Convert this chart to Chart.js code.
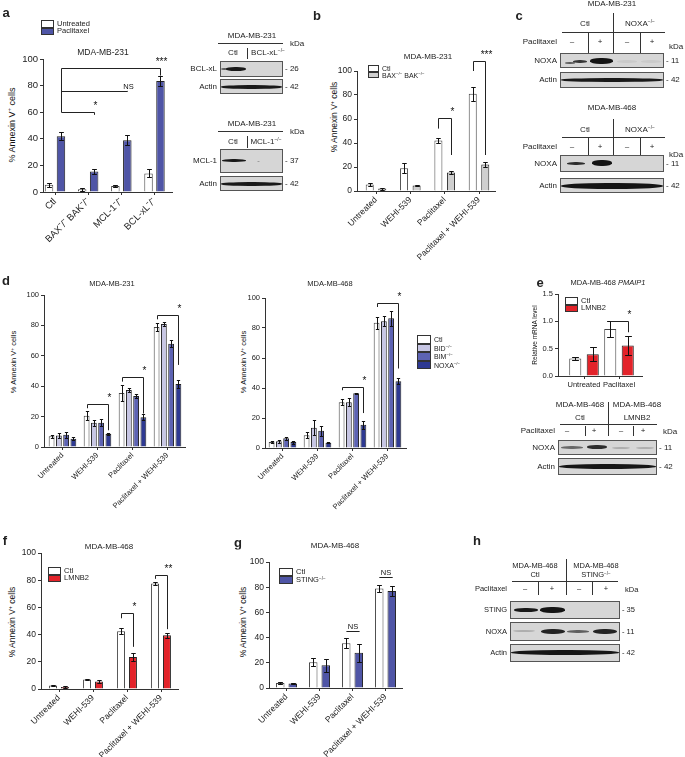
<!DOCTYPE html>
<html>
<head>
<meta charset="utf-8">
<script src="https://cdn.jsdelivr.net/npm/chart.js@4/dist/chart.umd.min.js"></script>
<style>
  body { margin: 0; width: 685px; height: 757px; position: relative; overflow: hidden; background: #fff;
         font-family: "Liberation Sans", Arial, sans-serif; color: #222; }
  .t { position: absolute; white-space: nowrap; line-height: 1; will-change: transform; }
  .v { will-change: auto; color: #111; }
  .s { font-size: .62em; vertical-align: .55em; }
  canvas { position: absolute; }
</style>
</head>
<body>
<script>
// ---- data ----
// a
const catsA = ['Ctl', 'BAX⁻/⁻ BAK⁻/⁻', 'MCL-1⁻/⁻', 'BCL-xL⁻/⁻'];
const namesA = ['Untreated', 'Paclitaxel'];
const untreatedA = [5.5, 2, 4.5, 14];
const untreatedErrA = [1.5, 1, 0.5, 3];
const paclitaxelA = [42, 15.5, 39, 83.5];
const paclitaxelErrA = [3, 2, 4, 3.5];
// b
const catsTreat = ['Untreated', 'WEHI-539', 'Paclitaxel', 'Paclitaxel + WEHI-539'];
const ctlB = [5.5, 19, 42, 81];
const ctlErrB = [1, 4, 2, 6];
const baxbakB = [2, 4.5, 15.5, 22];
const baxbakErrB = [0.8, 0.7, 1, 2];
// d
const ctlD231 = [7, 20.5, 35.5, 79];
const ctlErrD231 = [1, 3, 5, 2.5];
const bidD231 = [7.5, 16, 37.5, 81];
const bidErrD231 = [1.5, 2, 1, 1.5];
const bimD231 = [8, 16, 33.5, 68];
const bimErrD231 = [2, 2.5, 1.5, 2.5];
const noxaD231 = [5.5, 8.5, 19.5, 41.5];
const noxaErrD231 = [1, 0.5, 2, 2.5];
const ctlD468 = [4, 8.5, 30.5, 83.5];
const ctlErrD468 = [0.5, 2, 2, 4];
const bidD468 = [4.5, 13.5, 30.5, 84.5];
const bidErrD468 = [1, 5, 2.5, 3.5];
const bimD468 = [6.5, 11.5, 36.5, 86.5];
const bimErrD468 = [1, 3.5, 0.5, 5];
const noxaD468 = [4, 3.5, 15.5, 44.5];
const noxaErrD468 = [1, 0.3, 2.5, 2];
// e
const catsE = ['Untreated', 'Paclitaxel'];
const ctlE = [0.32, 0.86];
const ctlErrE = [0.03, 0.14];
const lmnb2E = [0.4, 0.56];
const lmnb2ErrE = [0.13, 0.17];
// f
const ctlF = [2.5, 7, 42.5, 77.5];
const ctlErrF = [0.5, 0.5, 2, 1];
const lmnb2F = [1.5, 5.5, 23.5, 39.5];
const lmnb2ErrF = [0.5, 1, 3, 2];
// g
const ctlG = [4, 20.5, 35.5, 79];
const ctlErrG = [0.5, 3, 4, 3];
const stingG = [3.5, 18, 28, 77];
const stingErrG = [0.5, 5, 7, 4];

const WHITE = '#ffffff', BLUE = '#4f55a6', GRAY = '#cfcfcf', RED = '#e3232a';
const BID = '#c7c6e4', BIM = '#5d63b3', NOXA = '#2e3992';
const FONT = '"Liberation Sans", Arial, sans-serif';
Chart.defaults.font.family = FONT;
Chart.defaults.color = '#222';

// ---- html helpers ----
function txt(x, y, html, size, align, extra, cls) {
  const d = document.createElement('div');
  d.className = 't' + (cls ? ' ' + cls : '');
  d.innerHTML = html;
  const tx = align === 'r' ? '-100%' : align === 'l' ? '0' : '-50%';
  d.style.cssText = `left:${x}px;top:${y}px;font-size:${size}px;transform:translate(${tx},-50%);${extra || ''}`;
  document.body.appendChild(d);
}
function vtxt(x, y, html, size) {
  txt(x, y, html, size, 'c', 'transform:translate(-50%,-50%) rotate(-90deg);', 'v');
}
function letter(x, y, s) { txt(x, y, s, 13, 'c', 'font-weight:bold;'); }
function line(x1, y1, x2, y2) {
  const d = document.createElement('div');
  d.style.cssText = `position:absolute;background:#333;left:${Math.min(x1, x2)}px;top:${Math.min(y1, y2)}px;` +
    `width:${Math.max(1, Math.abs(x2 - x1))}px;height:${Math.max(1, Math.abs(y2 - y1))}px`;
  document.body.appendChild(d);
}
function rect(x, y, w, h, fill, border) {
  const d = document.createElement('div');
  d.style.cssText = `position:absolute;left:${x}px;top:${y}px;width:${w}px;height:${h}px;background:${fill};` +
    `border:1px solid ${border || '#333'};box-sizing:border-box`;
  document.body.appendChild(d);
}
function band(x, y, w, h, a) {
  const d = document.createElement('div');
  d.style.cssText = `position:absolute;left:${x}px;top:${y}px;width:${w}px;height:${h}px;` +
    `background:rgba(15,15,15,${a});border-radius:45%;filter:blur(0.7px)`;
  document.body.appendChild(d);
}
function blot(x, y, w, h, label, kda, bands, size) {
  rect(x, y, w, h, '#d6d6d6', '#555');
  bands.forEach(b => band(b[0], b[1], b[2], b[3], b[4]));
  txt(x - 3, y + h / 2, label, size, 'r');
  txt(x + w + 2, y + h / 2, '- ' + kda, size, 'l');
}
function legend(x, y, h, names, colors, size) {
  names.forEach((n, i) => {
    rect(x, y + i * h, h * 1.7, h, colors[i], '#333');
    txt(x + h * 1.7 + 3, y + i * h + h / 2, n, size, 'l');
  });
}

// ---- chart plugins ----
const errPlugin = {
  id: 'errbars',
  afterDatasetsDraw(chart) {
    const ctx = chart.ctx, ys = chart.scales.y;
    ctx.save();
    ctx.strokeStyle = '#111';
    ctx.lineWidth = 1;
    chart.data.datasets.forEach((ds, i) => {
      if (!ds.err) return;
      chart.getDatasetMeta(i).data.forEach((bar, j) => {
        const v = ds.data[j], e = ds.err[j];
        const x = Math.round(bar.x) + 0.5;
        const yt = Math.round(ys.getPixelForValue(v + e)) + 0.5;
        const yb = Math.round(ys.getPixelForValue(Math.max(0, v - e))) + 0.5;
        const w = Math.max(1.5, bar.width * 0.28);
        ctx.beginPath();
        ctx.moveTo(x, yt); ctx.lineTo(x, yb);
        ctx.moveTo(x - w, yt); ctx.lineTo(x + w, yt);
        ctx.moveTo(x - w, yb); ctx.lineTo(x + w, yb);
        ctx.stroke();
      });
    });
    ctx.restore();
  }
};
function bracketPlugin(list, size) {
  return {
    id: 'brackets',
    afterDatasetsDraw(chart) {
      const ctx = chart.ctx, ys = chart.scales.y;
      ctx.save();
      ctx.strokeStyle = '#222';
      ctx.fillStyle = '#111';
      ctx.lineWidth = 1;
      ctx.textAlign = 'center';
      ctx.textBaseline = 'bottom';
      list.forEach(b => {
        const xa = Math.round(chart.getDatasetMeta(b.a[1]).data[b.a[0]].x) + 0.5;
        const xb = Math.round(chart.getDatasetMeta(b.b[1]).data[b.b[0]].x) + 0.5;
        const y = Math.round(ys.getPixelForValue(b.y)) + 0.5;
        ctx.beginPath();
        ctx.moveTo(xa, ys.getPixelForValue(b.ya));
        ctx.lineTo(xa, y);
        ctx.lineTo(xb, y);
        ctx.lineTo(xb, ys.getPixelForValue(b.yb));
        ctx.stroke();
        ctx.font = `${b.t === 'NS' ? 7.5 : size}px ${FONT}`;
        ctx.fillText(b.t, b.mid ? (xa + xb) / 2 : xb + 1, y - 1);
      });
      ctx.restore();
    }
  };
}

// area: [y-axis x, y of max, x-axis end, y of 0]; cx: first and last category centres
function barChart(area, cats, sets, o) {
  const [x0, y0, x1, y1] = area;
  const L = 40, T = o.top || 15, R = 20, B = 75;
  const cv = document.createElement('canvas');
  cv.width = x1 - x0 + L + R;
  cv.height = y1 - y0 + T + B;
  cv.style.left = (x0 - L) + 'px';
  cv.style.top = (y0 - T) + 'px';
  document.body.appendChild(cv);
  const font = { size: o.font };
  const sp = (o.cx[1] - o.cx[0]) / (cats.length - 1);
  new Chart(cv, {
    type: 'bar',
    data: {
      labels: cats,
      datasets: sets.map(s => ({
        data: s.vals, err: s.err, backgroundColor: s.color,
        borderColor: s.color === WHITE ? '#444' : '#222', borderWidth: 1,
        categoryPercentage: o.cp, barPercentage: o.bp
      }))
    },
    options: {
      responsive: false, animation: false, devicePixelRatio: 1,
      layout: { padding: { left: 0, top: T, right: R, bottom: 0 } },
      plugins: { legend: { display: false }, tooltip: { enabled: false } },
      scales: {
        x: {
          grid: { offset: false, drawOnChartArea: false, tickLength: 3, color: '#333' },
          border: { color: '#333' },
          ticks: { font, color: '#222', maxRotation: o.rot, minRotation: o.rot, autoSkip: false, padding: 1 },
          afterBuildTicks: s => { s._startValue = -(o.cx[0] - x0) / sp; s._valueRange = (x1 - x0) / sp; },
          afterFit: s => { s.height = B; s.paddingLeft = 0; s.paddingRight = 0; }
        },
        y: {
          min: 0, max: o.max || 100,
          ticks: { stepSize: o.step || 20, font, color: '#222', padding: 2, callback: o.fmt || (v => v) },
          grid: { drawOnChartArea: false, tickLength: 3, color: '#333' },
          border: { color: '#333' },
          afterFit: s => { s.width = L; s.paddingTop = 0; s.paddingBottom = 0; }
        }
      }
    },
    plugins: [errPlugin, bracketPlugin(o.brackets || [], o.sig || o.font + 1)]
  });
}

const SUP = s => `<span class="s">${s}</span>`;
const KO = SUP('−/−');
const ANX = `% Annexin V${SUP('+')} cells`;

function lanesHeader(xs, y, xL, size) {
  txt(xL - 3, y, 'Paclitaxel', size, 'r');
  ['–', '+', '–', '+'].forEach((s, i) => txt(xs[i], y, s, size));
}

// ---------- panel a ----------
letter(6, 12, 'a');
legend(41, 20, 7.5, namesA, [WHITE, BLUE], 7.5);
txt(103, 52, 'MDA-MB-231', 8.5);
vtxt(12, 125, ANX, 9);
barChart([43, 59, 172, 192], catsA, [
  { vals: untreatedA, err: untreatedErrA, color: WHITE },
  { vals: paclitaxelA, err: paclitaxelErrA, color: BLUE }
], { cx: [55, 154.5], cp: 0.72, bp: 0.71, font: 9.5, rot: 45, sig: 10, brackets: [
  { a: [0, 1], b: [3, 1], y: 93.5, ya: 60, yb: 87.5, t: '***' },
  { a: [0, 1], b: [2, 1], y: 76, ya: 76, yb: 76, t: 'NS' },
  { a: [0, 1], b: [1, 1], y: 60, ya: 60, yb: 58, t: '*' }
] });

// blots a
txt(252, 36, 'MDA-MB-231', 8);
line(218, 43, 283, 43);
txt(290, 44, 'kDa', 8, 'l');
txt(233, 53, 'Ctl', 8);
line(247, 48, 247, 59);
txt(268, 53, 'BCL-xL' + KO, 8);
blot(220, 61, 63, 16, 'BCL-xL', 26, [[221, 68, 7, 2, .6], [226, 67, 20, 4, .95]], 8);
blot(220, 79, 63, 15, 'Actin', 42, [[221, 85, 61, 4, .95]], 8);
txt(252, 124, 'MDA-MB-231', 8);
line(218, 131, 283, 131);
txt(290, 132, 'kDa', 8, 'l');
txt(233, 142, 'Ctl', 8);
line(247, 136, 247, 148);
txt(266, 142, 'MCL-1' + KO, 8);
blot(220, 149, 63, 24, 'MCL-1', 37, [[222, 159, 24, 3, .95], [257, 161, 3, 1, .3]], 8);
blot(220, 176, 63, 15, 'Actin', 42, [[221, 182, 61, 4, .95]], 8);

// ---------- panel b ----------
letter(317, 15, 'b');
txt(428, 57, 'MDA-MB-231', 8);
vtxt(334, 117, ANX, 8.5);
legend(368, 65, 6.5, ['Ctl', 'BAX' + KO + ' BAK' + KO], [WHITE, GRAY], 7);
barChart([357, 71, 495, 191], catsTreat, [
  { vals: ctlB, err: ctlErrB, color: WHITE },
  { vals: baxbakB, err: baxbakErrB, color: GRAY }
], { cx: [376, 479], cp: 0.73, bp: 0.64, font: 8.5, rot: 45, top: 35, sig: 10, brackets: [
  { a: [2, 0], b: [2, 1], y: 61, ya: 52, yb: 30, t: '*' },
  { a: [3, 0], b: [3, 1], y: 108, ya: 100, yb: 30, t: '***' }
] });

// ---------- panel c ----------
letter(519, 15, 'c');
txt(612, 4, 'MDA-MB-231', 8);
line(613, 13, 613, 53);
txt(585, 24, 'Ctl', 8);
txt(640, 24, 'NOXA' + KO, 8);
line(562, 32, 665, 32);
lanesHeader([572, 600, 627, 652], 42, 560, 8);
line(588, 33, 588, 53); line(640, 33, 640, 53);
txt(669, 47, 'kDa', 8, 'l');
blot(560, 53, 104, 15, 'NOXA', 11, [[565, 62, 10, 2, .6], [573, 60, 14, 3, .8], [590, 58, 23, 6, .98], [617, 60, 20, 3, .06], [641, 60, 20, 3, .06]], 8);
blot(560, 72, 104, 16, 'Actin', 42, [[561, 78, 102, 4, .95]], 8);
txt(612, 108, 'MDA-MB-468', 8);
line(613, 119, 613, 155);
txt(585, 130, 'Ctl', 8);
txt(640, 130, 'NOXA' + KO, 8);
line(562, 137, 665, 137);
lanesHeader([572, 600, 627, 652], 147, 560, 8);
line(588, 138, 588, 155); line(640, 138, 640, 155);
txt(669, 155, 'kDa', 8, 'l');
blot(560, 155, 104, 17, 'NOXA', 11, [[567, 162, 18, 3, .85], [592, 160, 20, 6, .98]], 8);
blot(560, 178, 104, 15, 'Actin', 42, [[561, 183, 102, 6, .98]], 8);

// ---------- panel d ----------
letter(6, 280, 'd');
const dSets231 = [
  { vals: ctlD231, err: ctlErrD231, color: WHITE },
  { vals: bidD231, err: bidErrD231, color: BID },
  { vals: bimD231, err: bimErrD231, color: BIM },
  { vals: noxaD231, err: noxaErrD231, color: NOXA }
];
txt(112, 284, 'MDA-MB-231', 7.5);
vtxt(14, 362, ANX, 7.5);
barChart([44, 295, 185, 447], catsTreat, dSets231, { cx: [62.5, 167.5], cp: 0.83, bp: 0.8, font: 7.5, rot: 45, top: 25, sig: 10, brackets: [
  { a: [1, 0], b: [1, 3], y: 28.3, ya: 25.5, yb: 11, t: '*' },
  { a: [2, 0], b: [2, 3], y: 46, ya: 43, yb: 22, t: '*' },
  { a: [3, 0], b: [3, 3], y: 87, ya: 84, yb: 54, t: '*' }
] });
const dSets468 = [
  { vals: ctlD468, err: ctlErrD468, color: WHITE },
  { vals: bidD468, err: bidErrD468, color: BID },
  { vals: bimD468, err: bimErrD468, color: BIM },
  { vals: noxaD468, err: noxaErrD468, color: NOXA }
];
txt(330, 284, 'MDA-MB-468', 7.5);
vtxt(244, 362, ANX, 7.5);
barChart([265, 298, 406, 448], catsTreat, dSets468, { cx: [282.5, 387.5], cp: 0.83, bp: 0.8, font: 7.5, rot: 45, top: 25, sig: 10, brackets: [
  { a: [2, 0], b: [2, 3], y: 40.7, ya: 38.5, yb: 23.3, t: '*' },
  { a: [3, 0], b: [3, 3], y: 96.7, ya: 94, yb: 53, t: '*' }
] });
legend(417, 335, 8.5, ['Ctl', 'BID' + KO, 'BIM' + KO, 'NOXA' + KO], [WHITE, BID, BIM, NOXA], 7);

// ---------- panel e ----------
letter(540, 282, 'e');
txt(608, 283, 'MDA-MB-468 <i>PMAIP1</i>', 7.5);
vtxt(535, 335, 'Relative mRNA level', 6.5);
legend(565, 297, 7.5, ['Ctl', 'LMNB2'], [WHITE, RED], 7.5);
barChart([558, 294, 642, 376], catsE, [
  { vals: ctlE, err: ctlErrE, color: WHITE },
  { vals: lmnb2E, err: lmnb2ErrE, color: RED }
], { cx: [584, 619], cp: 1.0, bp: 0.69, font: 7.5, rot: 0, max: 1.5, step: 0.5, fmt: v => v.toFixed(1), sig: 10, brackets: [
  { a: [1, 0], b: [1, 1], y: 1.0, ya: 1.0, yb: 0.8, t: '*' }
] });
txt(580, 405, 'MDA-MB-468', 8);
txt(580, 418, 'Ctl', 8);
txt(637, 405, 'MDA-MB-468', 8);
txt(637, 418, 'LMNB2', 8);
line(608, 402, 608, 436);
line(560, 424, 657, 424);
lanesHeader([567, 594, 621, 643], 431, 558, 8);
line(585, 426, 585, 436); line(633, 426, 633, 436);
txt(663, 432, 'kDa', 8, 'l');
blot(558, 440, 99, 15, 'NOXA', 11, [[561, 446, 22, 3, .55], [587, 445, 20, 4, .85], [612, 447, 18, 2, .2], [636, 447, 18, 2, .2]], 8);
blot(558, 458, 99, 17, 'Actin', 42, [[559, 464, 97, 5, .97]], 8);

// ---------- panel f ----------
letter(5, 540, 'f');
txt(109, 547, 'MDA-MB-468', 8);
vtxt(12, 622, ANX, 8.5);
legend(48, 567, 7.5, ['Ctl', 'LMNB2'], [WHITE, RED], 7.5);
barChart([41, 553, 178, 689], catsTreat, [
  { vals: ctlF, err: ctlErrF, color: WHITE },
  { vals: lmnb2F, err: lmnb2ErrF, color: RED }
], { cx: [59, 161], cp: 0.7, bp: 0.67, font: 8.5, rot: 45, sig: 10, brackets: [
  { a: [2, 0], b: [2, 1], y: 56, ya: 52, yb: 31, t: '*' },
  { a: [3, 0], b: [3, 1], y: 84, ya: 81, yb: 44, t: '**' }
] });

// ---------- panel g ----------
letter(238, 542, 'g');
txt(335, 546, 'MDA-MB-468', 8);
vtxt(243, 622, ANX, 8.5);
legend(279, 568, 8, ['Ctl', 'STING' + KO], [WHITE, BLUE], 7.5);
barChart([269, 562, 402, 688], catsTreat, [
  { vals: ctlG, err: ctlErrG, color: WHITE },
  { vals: stingG, err: stingErrG, color: BLUE }
], { cx: [286.5, 385.5], cp: 0.76, bp: 0.68, font: 8.5, rot: 45, sig: 8, brackets: [
  { a: [2, 0], b: [2, 1], y: 45, ya: 45, yb: 45, t: 'NS', mid: true },
  { a: [3, 0], b: [3, 1], y: 88, ya: 88, yb: 88, t: 'NS', mid: true }
] });

// ---------- panel h ----------
letter(477, 540, 'h');
txt(535, 566, 'MDA-MB-468', 7.5);
txt(535, 575, 'Ctl', 7.5);
txt(596, 566, 'MDA-MB-468', 7.5);
txt(596, 575, 'STING' + KO, 7.5);
line(566, 559, 566, 595);
line(512, 581, 618, 581);
lanesHeader([525, 552, 579, 606], 589, 510, 7.5);
line(538, 582, 538, 595); line(592, 582, 592, 595);
txt(625, 590, 'kDa', 7.5, 'l');
blot(510, 601, 110, 18, 'STING', 35, [[514, 608, 24, 4, .95], [540, 607, 25, 6, .98]], 7.5);
blot(510, 622, 110, 19, 'NOXA', 11, [[513, 630, 22, 2, .2], [541, 629, 24, 5, .9], [567, 630, 22, 3, .6], [593, 629, 24, 5, .9]], 7.5);
blot(510, 644, 110, 18, 'Actin', 42, [[511, 650, 108, 5, .97]], 7.5);
</script>
</body>
</html>
